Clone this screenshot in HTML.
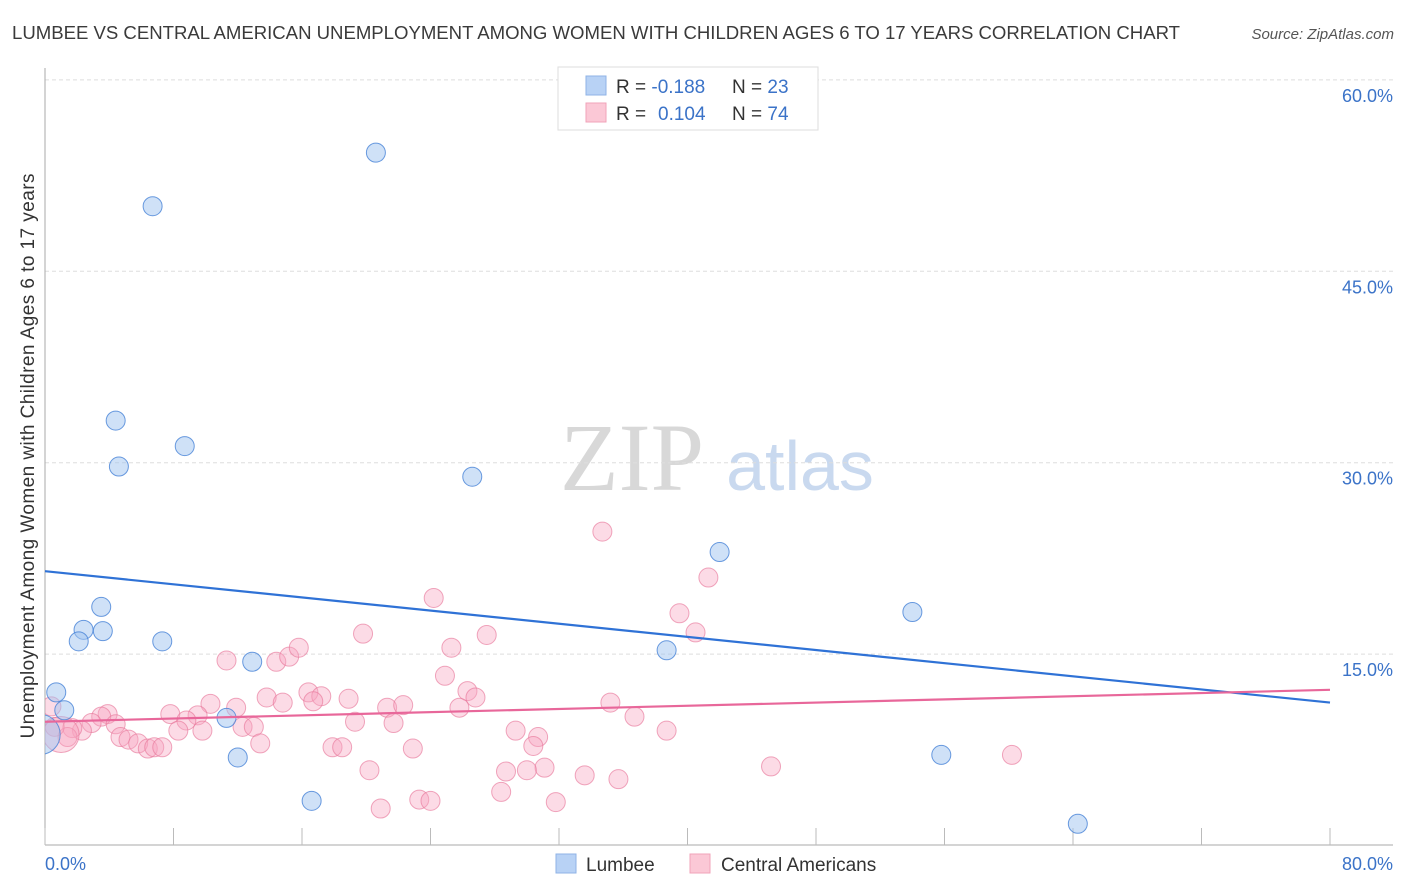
<!DOCTYPE html>
<html><head><meta charset="utf-8"><style>
body{margin:0;background:#fff;font-family:"Liberation Sans",sans-serif;}
#wrap{position:relative;width:1406px;height:892px;overflow:hidden;}
</style></head><body>
<div id="wrap">
<svg id="svg" width="1406" height="892" xmlns="http://www.w3.org/2000/svg">
<defs><clipPath id="plotclip"><rect x="45" y="60" width="1360" height="786"/></clipPath></defs>
<text x="12" y="39" font-size="18.6" fill="#3a3a3a" textLength="1168">LUMBEE VS CENTRAL AMERICAN UNEMPLOYMENT AMONG WOMEN WITH CHILDREN AGES 6 TO 17 YEARS CORRELATION CHART</text>
<text x="1394" y="39" font-size="15" font-style="italic" fill="#555" text-anchor="end">Source: ZipAtlas.com</text>
<g>
<text x="632" y="490" font-size="96" font-family="Liberation Serif,serif" fill="#d8d8d8" text-anchor="middle">ZIP</text>
<text x="800" y="490" font-size="70" fill="#c9d9ef" text-anchor="middle">atlas</text>
</g>
<g id="grid"></g>
<g id="axes"></g>
<g id="pts" clip-path="url(#plotclip)"></g>
<g id="lines"></g>
<text transform="translate(34,456) rotate(-90)" font-size="19" fill="#333" text-anchor="middle" textLength="565">Unemployment Among Women with Children Ages 6 to 17 years</text>
<text x="45" y="870" font-size="18" fill="#3b73c8">0.0%</text>
<text x="1393" y="870" font-size="18" fill="#3b73c8" text-anchor="end">80.0%</text>
<g>
<rect x="558" y="67" width="260" height="63" fill="#fff" stroke="#ddd"/>
<rect x="586" y="76" width="20" height="19" fill="#b8d2f5" stroke="#8fb3e6"/>
<rect x="586" y="103" width="20" height="19" fill="#fbc8d6" stroke="#f0a3b9"/>
<text x="616" y="93" font-size="19" fill="#333">R = <tspan fill="#3b73c8">-0.188</tspan><tspan x="732">N = </tspan><tspan fill="#3b73c8">23</tspan></text>
<text x="616" y="120" font-size="19" fill="#333">R = <tspan x="658" fill="#3b73c8">0.104</tspan><tspan x="732">N = </tspan><tspan fill="#3b73c8">74</tspan></text>
</g>
<g>
<rect x="556" y="854" width="20" height="19" fill="#b8d2f5" stroke="#8fb3e6"/>
<text x="586" y="871" font-size="19" fill="#333">Lumbee</text>
<rect x="690" y="854" width="20" height="19" fill="#fbc8d6" stroke="#f0a3b9"/>
<text x="721" y="871" font-size="19" fill="#333">Central Americans</text>
</g>
</svg>
</div>
<script>
const yTicks=[15,30,45,60];
const yTickLabels=["15.0%","30.0%","45.0%","60.0%"];
const xTicks=[0,8,16,24,32,40,48,56,64,72,80];
const lumbeeX=[20.6,6.7,4.4,8.7,4.6,26.6,42.0,54.0,3.5,2.4,3.6,2.1,7.3,38.7,12.9,0.7,1.2,11.3,12.0,55.8,16.6,64.3,-0.3];
const lumbeeY=[54.3,50.1,33.3,31.3,29.7,28.9,23.0,18.3,18.7,16.9,16.8,16.0,16.0,15.3,14.4,12.0,10.6,10.0,6.9,7.1,3.5,1.7,8.7];
const centralX=[24.2,19.8,27.5,25.3,11.3,14.4,15.2,15.8,24.9,26.3,26.8,25.8,13.8,14.8,16.4,17.2,16.7,18.9,21.3,22.3,19.3,21.7,10.3,11.9,7.8,9.5,8.8,8.3,9.8,12.3,13.0,13.4,17.9,18.5,22.9,20.2,23.3,24.0,20.9,3.9,3.5,4.4,2.9,2.3,1.7,4.7,5.2,5.8,6.4,6.8,7.3,1.4,0.6,0.4,34.7,41.3,39.5,40.5,35.2,36.7,38.7,29.3,30.7,30.4,31.1,28.7,30.0,33.6,35.7,45.2,60.2,28.4,31.8,1.0];
const centralY=[19.4,16.6,16.5,15.5,14.5,14.4,14.8,15.5,13.3,12.1,11.6,10.8,11.6,11.2,12.0,11.7,11.3,11.5,10.8,11.0,9.7,9.6,11.1,10.8,10.3,10.2,9.8,9.0,9.0,9.3,9.3,8.0,7.7,7.7,7.6,5.9,3.6,3.5,2.9,10.3,10.1,9.5,9.6,9.0,9.2,8.5,8.3,8.0,7.6,7.7,7.7,8.5,9.3,10.9,24.6,21.0,18.2,16.7,11.2,10.1,9.0,9.0,8.5,7.8,6.1,5.8,5.9,5.5,5.2,6.2,7.1,4.2,3.4,8.7];
const lumbeeTrend=[21.5,11.2];
const centralTrend=[9.7,12.2];
const NS="http://www.w3.org/2000/svg";
function X(v){return 45+v*(1285/80);}
function Y(v){return 845.5-v*12.76;}
function mk(tag,attrs,parent){const e=document.createElementNS(NS,tag);for(const k in attrs)e.setAttribute(k,attrs[k]);parent.appendChild(e);return e;}
const grid=document.getElementById('grid'),axes=document.getElementById('axes'),pts=document.getElementById('pts'),lines=document.getElementById('lines');
yTicks.forEach((t,i)=>{
 const l=mk('line',{x1:45,x2:1393,y1:Y(t),y2:Y(t),stroke:'#ddd','stroke-dasharray':'4,3'},grid);
 
 
 const tx=mk('text',{x:1393,y:Y(t)+22,'font-size':18,fill:'#3b73c8','text-anchor':'end'},grid);
 tx.textContent=yTickLabels[i];
 
 
});
const ya=mk('line',{x1:45,x2:45,y1:68,y2:845,stroke:'#aaa'},axes);


const xa=mk('line',{x1:45,x2:1393,y1:845,y2:845,stroke:'#aaa'},axes);


xTicks.forEach(t=>{
 const l=mk('line',{x1:X(t),x2:X(t),y1:828,y2:845,stroke:'#bbb'},axes);
 
 
});
centralX.forEach((x,i)=>{
 const big=i===centralX.length-1;
 const c=mk('circle',{cx:X(x),cy:Y(centralY[i]),r:big?18:9.5,fill:'rgba(247,165,192,0.4)',stroke:'rgba(232,120,155,0.65)','stroke-width':1},pts);
 
 
});
lumbeeX.forEach((x,i)=>{
 const big=i===lumbeeX.length-1;
 const c=mk('circle',{cx:X(x),cy:Y(lumbeeY[i]),r:big?20:9.5,fill:'rgba(160,195,240,0.5)',stroke:'rgba(70,130,215,0.8)','stroke-width':1},pts);
 
 
});
const lt=mk('line',{x1:X(0),x2:X(80),y1:Y(lumbeeTrend[0]),y2:Y(lumbeeTrend[1]),stroke:'#2f72d6','stroke-width':2.2},lines);


const ct=mk('line',{x1:X(0),x2:X(80),y1:Y(centralTrend[0]),y2:Y(centralTrend[1]),stroke:'#e8679a','stroke-width':2.2},lines);


</script>
</body></html>
